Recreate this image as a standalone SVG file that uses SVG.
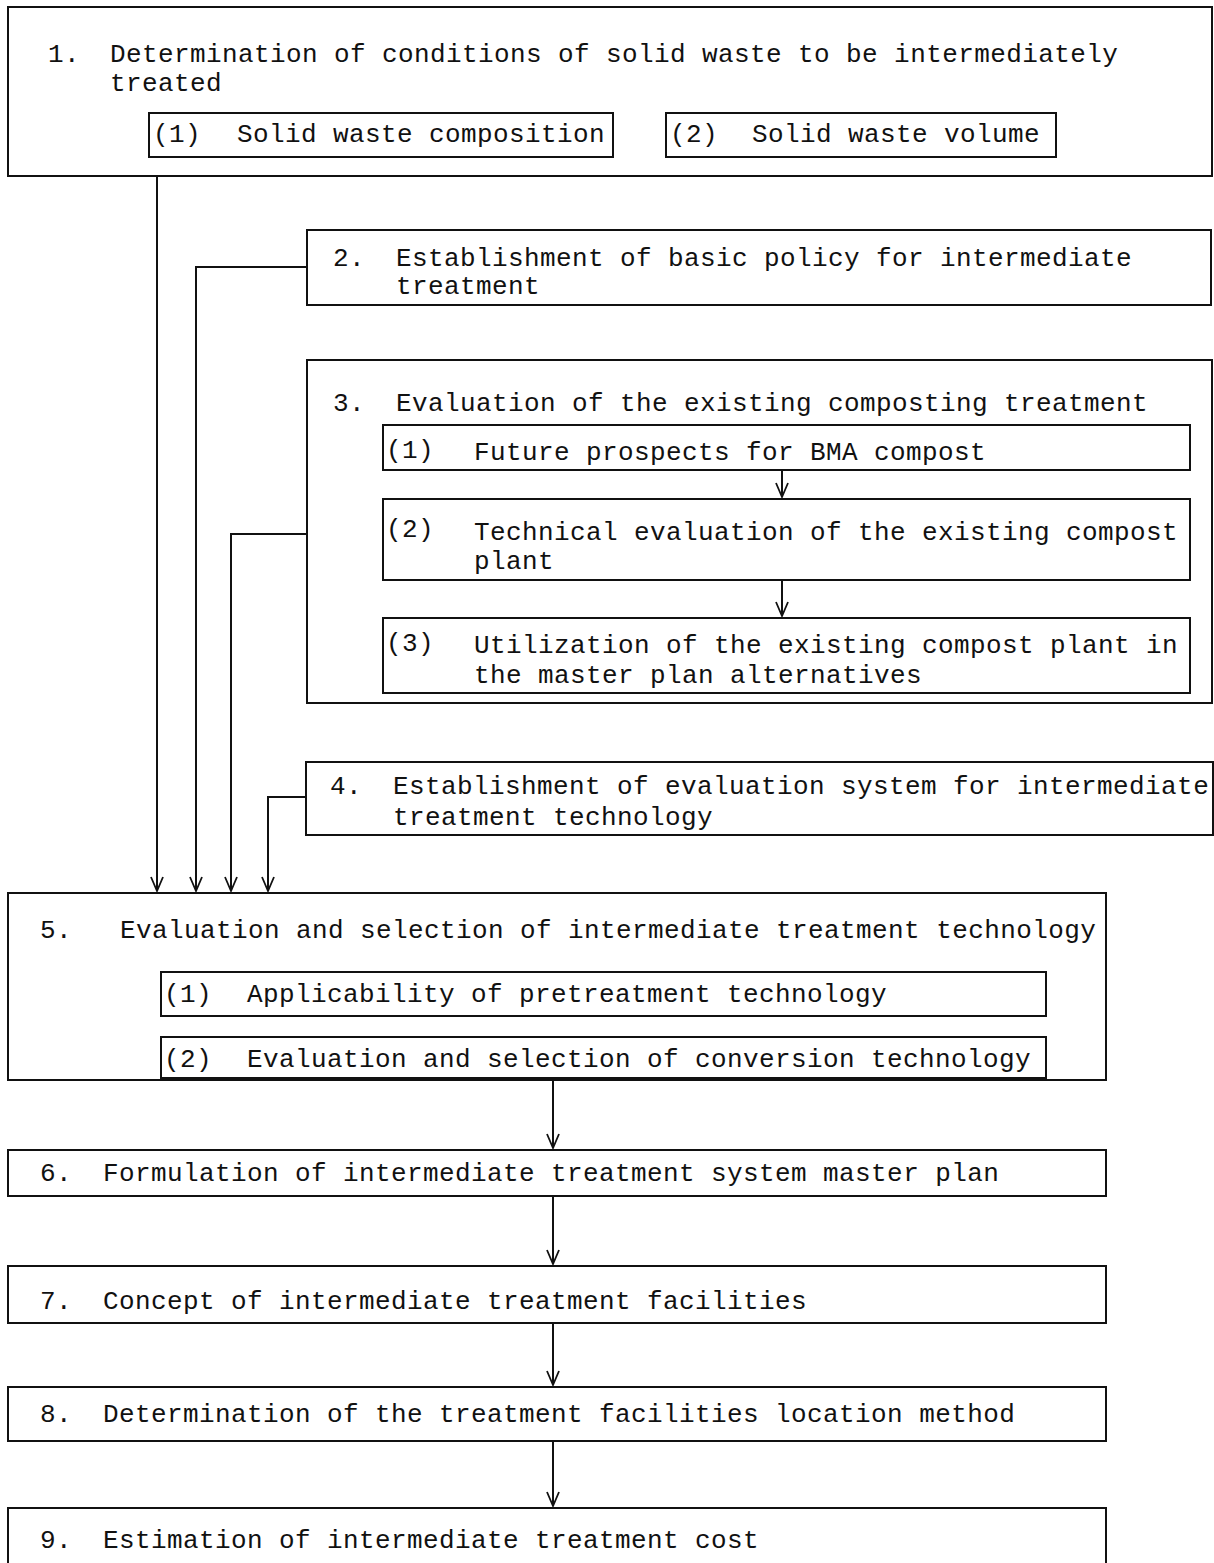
<svg xmlns="http://www.w3.org/2000/svg" width="1214" height="1563" viewBox="0 0 1214 1563">
<style>
.b{fill:none;stroke:#111;stroke-width:2}
.t{font-family:"Liberation Mono",monospace;font-size:26px;letter-spacing:0.4px;fill:#111}
.c{fill:none;stroke:#111;stroke-width:2}
</style>
<defs>
<marker id="ah" viewBox="-15 -7 16 14" markerWidth="16" markerHeight="14" refX="0" refY="0" orient="auto" markerUnits="userSpaceOnUse" overflow="visible">
<path d="M-14,-6 L0,0 L-14,6" fill="none" stroke="#111" stroke-width="1.8"/>
</marker>
</defs>
<rect width="1214" height="1563" fill="#fff"/>

<g id="n1">
<rect class="b" x="8" y="7" width="1204" height="169"/>
<text class="t" x="48" y="62">1.</text>
<text class="t" x="110" y="62">Determination of conditions of solid waste to be intermediately</text>
<text class="t" x="110" y="91">treated</text>
<g id="n1-1"><rect class="b" x="149" y="113" width="464" height="44"/><text class="t" x="153" y="142">(1)</text><text class="t" x="237" y="142">Solid waste composition</text></g>
<g id="n1-2"><rect class="b" x="666" y="113" width="390" height="44"/><text class="t" x="670" y="142">(2)</text><text class="t" x="752" y="142">Solid waste volume</text></g>
</g>

<g id="n2">
<rect class="b" x="307" y="230" width="904" height="75"/>
<text class="t" x="333" y="266">2.</text>
<text class="t" x="396" y="266">Establishment of basic policy for intermediate</text>
<text class="t" x="396" y="294">treatment</text>
</g>

<g id="n3">
<rect class="b" x="307" y="360" width="905" height="343"/>
<text class="t" x="333" y="411">3.</text>
<text class="t" x="396" y="411">Evaluation of the existing composting treatment</text>
<g id="n3-1"><rect class="b" x="383" y="425" width="807" height="45"/><text class="t" x="386" y="458">(1)</text><text class="t" x="474" y="460">Future prospects for BMA compost</text></g>
<g id="n3-2"><rect class="b" x="383" y="499" width="807" height="81"/><text class="t" x="386" y="537">(2)</text><text class="t" x="474" y="540">Technical evaluation of the existing compost</text><text class="t" x="474" y="569">plant</text></g>
<g id="n3-3"><rect class="b" x="383" y="618" width="807" height="75"/><text class="t" x="386" y="651">(3)</text><text class="t" x="474" y="653">Utilization of the existing compost plant in</text><text class="t" x="474" y="683">the master plan alternatives</text></g>
</g>

<g id="n4">
<rect class="b" x="306" y="762" width="907" height="73"/>
<text class="t" x="330" y="794">4.</text>
<text class="t" x="393" y="794">Establishment of evaluation system for intermediate</text>
<text class="t" x="393" y="825">treatment technology</text>
</g>

<g id="n5">
<rect class="b" x="8" y="893" width="1098" height="187"/>
<text class="t" x="40" y="938">5.</text>
<text class="t" x="120" y="938">Evaluation and selection of intermediate treatment technology</text>
<g id="n5-1"><rect class="b" x="161" y="972" width="885" height="44"/><text class="t" x="164" y="1002">(1)</text><text class="t" x="247" y="1002">Applicability of pretreatment technology</text></g>
<g id="n5-2"><rect class="b" x="161" y="1037" width="885" height="41"/><text class="t" x="164" y="1067">(2)</text><text class="t" x="247" y="1067">Evaluation and selection of conversion technology</text></g>
</g>

<g id="n6">
<rect class="b" x="8" y="1150" width="1098" height="46"/>
<text class="t" x="40" y="1181">6.</text>
<text class="t" x="103" y="1181">Formulation of intermediate treatment system master plan</text>
</g>

<g id="n7">
<rect class="b" x="8" y="1266" width="1098" height="57"/>
<text class="t" x="40" y="1309">7.</text>
<text class="t" x="103" y="1309">Concept of intermediate treatment facilities</text>
</g>

<g id="n8">
<rect class="b" x="8" y="1387" width="1098" height="54"/>
<text class="t" x="40" y="1422">8.</text>
<text class="t" x="103" y="1422">Determination of the treatment facilities location method</text>
</g>

<g id="n9">
<rect class="b" x="8" y="1508" width="1098" height="70"/>
<text class="t" x="40" y="1548">9.</text>
<text class="t" x="103" y="1548">Estimation of intermediate treatment cost</text>
</g>

<g id="connectors">
<path class="c" d="M157,176 V891" marker-end="url(#ah)"/>
<path class="c" d="M307,267 H196 V891" marker-end="url(#ah)"/>
<path class="c" d="M307,534 H231 V891" marker-end="url(#ah)"/>
<path class="c" d="M306,797 H268 V891" marker-end="url(#ah)"/>
<path class="c" d="M782,470 V497" marker-end="url(#ah)"/>
<path class="c" d="M782,580 V616" marker-end="url(#ah)"/>
<path class="c" d="M553,1080 V1148" marker-end="url(#ah)"/>
<path class="c" d="M553,1196 V1264" marker-end="url(#ah)"/>
<path class="c" d="M553,1323 V1385" marker-end="url(#ah)"/>
<path class="c" d="M553,1441 V1506" marker-end="url(#ah)"/>
</g>
</svg>
